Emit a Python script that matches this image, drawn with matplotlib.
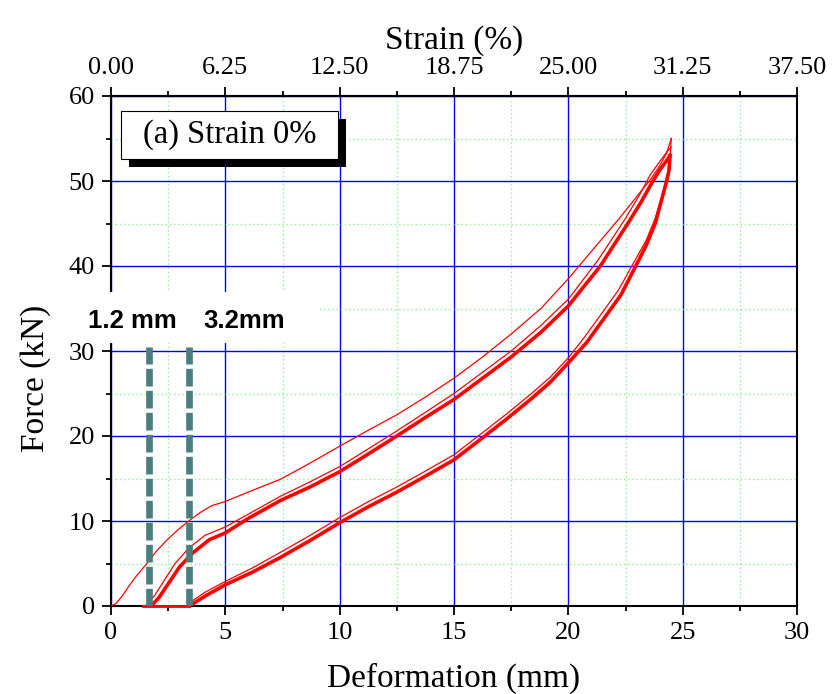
import numpy as np
import matplotlib
matplotlib.use("Agg")
import matplotlib.pyplot as plt
from matplotlib.patches import Rectangle
from matplotlib.ticker import MultipleLocator, FuncFormatter

plt.rcParams['font.family'] = ['Liberation Serif', 'DejaVu Serif']

# ---------------- data ----------------
X_TICKS = [0, 5, 10, 15, 20, 25, 30]
Y_TICKS = [0, 10, 20, 30, 40, 50, 60]
STRAIN_TICKS = [0.00, 6.25, 12.50, 18.75, 25.00, 31.25, 37.50]

# first loading
LOAD1_X = [0, 0.22, 0.5, 0.8, 1.1, 1.54, 2.0, 2.46, 2.9, 3.4, 3.9, 4.4, 5.0, 6.0, 7.4, 8.5,
           10.0, 11.2, 12.5, 13.7, 15.0, 16.2, 17.5, 18.8, 20.0, 21.0, 22.2, 23.0, 23.6, 24.0, 24.3, 24.5]
LOAD1_F = [0, 0.3, 1.2, 2.4, 3.5, 4.9, 6.5, 7.8, 8.9, 10.0, 11.0, 11.8, 12.3, 13.4, 14.9, 16.5,
           18.8, 20.6, 22.5, 24.5, 26.8, 29.2, 32.0, 35.0, 38.5, 41.7, 45.5, 48.2, 50.2, 51.8, 53.3, 55.0]

# reloading: separate upper line and dense cluster
RELOAD_TOP_X = [1.5, 1.9, 2.4, 2.8, 3.4, 4.1, 5.0, 6.0, 7.4, 8.7, 10.0, 11.2, 12.5, 13.7, 15.0,
                16.2, 17.5, 18.8, 20.0, 21.3, 22.5, 23.1, 23.6, 24.0, 24.3, 24.5]
RELOAD_TOP_F = [0, 1.2, 3.3, 5.0, 6.8, 8.3, 9.3, 10.8, 12.9, 14.6, 16.4, 18.4, 20.6, 22.7, 25.0,
                27.4, 30.0, 33.0, 36.1, 40.7, 45.6, 48.3, 50.8, 52.3, 53.4, 54.0]
RELOAD_X = [1.75, 2.1, 2.6, 3.0, 3.6, 4.3, 5.0, 6.0, 7.4, 8.7, 10.0, 11.2, 12.5, 13.7, 15.0,
            16.2, 17.5, 18.8, 20.0, 21.4, 22.6, 23.2, 23.7, 24.0, 24.3, 24.45]
RELOAD_F = [0, 1.0, 3.0, 4.6, 6.3, 7.8, 8.6, 10.3, 12.4, 14.0, 15.8, 17.8, 20.0, 22.1, 24.3,
            26.7, 29.3, 32.2, 35.3, 40.0, 45.0, 47.6, 50.0, 51.3, 52.4, 53.0]

# unloading: separate upper line and dense cluster
UNLOAD_TOP_X = [24.5, 24.45, 24.35, 24.25, 24.05, 23.8, 23.4, 22.9, 22.2, 21.4, 20.7, 20.0, 19.2,
                18.3, 17.3, 16.3, 15.0, 13.7, 12.5, 11.2, 10.0, 8.7, 7.4, 6.2, 5.0, 4.1, 3.5, 3.3]
UNLOAD_TOP_F = [55.0, 52.5, 51.0, 49.8, 47.8, 45.6, 43.0, 40.6, 37.2, 34.2, 31.6, 29.2, 26.9,
                24.8, 22.6, 20.5, 17.8, 15.8, 14.0, 12.2, 10.4, 8.3, 6.3, 4.5, 2.9, 1.6, 0.5, 0]
UNLOAD_X = [24.45, 24.4, 24.3, 24.2, 24.0, 23.8, 23.4, 22.95, 22.3, 21.5, 20.8, 20.0, 19.2, 18.3,
            17.3, 16.3, 15.0, 13.7, 12.5, 11.2, 10.0, 8.7, 7.4, 6.2, 5.0, 4.2, 3.6, 3.4]
UNLOAD_F = [53.0, 51.2, 50.0, 49.0, 47.0, 45.0, 42.4, 40.0, 36.6, 33.6, 31.0, 28.6, 26.3, 24.2,
            22.0, 19.9, 17.2, 15.2, 13.4, 11.6, 9.8, 7.7, 5.7, 4.0, 2.5, 1.3, 0.3, 0]

# zero-force segment between unloading end and reloading start
FLAT_X = [1.4, 3.4]
FLAT_F = [0, 0]

# dashed markers
DASH_X = [1.66, 3.40]
DASH_TOP = 30.5
DASH_LABELS = ["1.2 mm", "3.2mm"]

TITLE_BOX = "(a) Strain 0%"

# ---------------- figure ----------------
W, H = 834, 694
fig = plt.figure(figsize=(W / 100, H / 100), dpi=100)
ax_l, ax_r, ax_t, ax_b = 111, 797, 96, 606
ax = fig.add_axes([ax_l / W, 1 - ax_b / H, (ax_r - ax_l) / W, (ax_b - ax_t) / H])

ax.set_xlim(X_TICKS[0], X_TICKS[-1])
ax.set_ylim(Y_TICKS[0], Y_TICKS[-1])
ax.set_xticks(X_TICKS)
ax.set_yticks(Y_TICKS)
ax.xaxis.set_minor_locator(MultipleLocator(2.5))
ax.yaxis.set_minor_locator(MultipleLocator(5))
ax.set_axisbelow(True)
ax.grid(which='major', color='#0000ff', lw=1.0)
ax.grid(which='minor', color='#90ee90', ls=(0, (1, 2)), lw=1.0)

ax.tick_params(which='major', direction='out', length=6.5, width=1.3, labelsize=19, pad=5,
               top=False, right=False)
ax.tick_params(which='minor', direction='out', length=3.5, width=1.3, top=False, right=False)
for s in ax.spines.values():
    s.set_linewidth(1.5)

# curves
red = '#ff0000'
ax.plot(LOAD1_X, LOAD1_F, color=red, lw=0.9, zorder=3)
ax.plot(UNLOAD_TOP_X, UNLOAD_TOP_F, color=red, lw=0.9, zorder=3)
ax.plot(RELOAD_TOP_X, RELOAD_TOP_F, color=red, lw=0.9, zorder=3)
ax.plot(RELOAD_X, RELOAD_F, color=red, lw=2.6, zorder=3)
ax.plot(UNLOAD_X, UNLOAD_F, color=red, lw=2.6, zorder=3)
ax.plot(FLAT_X, FLAT_F, color=red, lw=2.0, zorder=3, clip_on=False)

# dashed teal lines
for dx in DASH_X:
    ax.plot([dx, dx], [0, DASH_TOP], color='#4a7e80', lw=4.8, dashes=(2.65, 0.65),
            solid_capstyle='butt', dash_capstyle='butt', zorder=4)

# top strain axis
ratio = STRAIN_TICKS[-1] / X_TICKS[-1]
sec = ax.secondary_xaxis('top', functions=(lambda x: x * ratio, lambda s: s / ratio))
sec.set_xticks(STRAIN_TICKS)
sec.xaxis.set_major_formatter(FuncFormatter(lambda v, p: f"{v:.2f}"))
sec.xaxis.set_minor_locator(MultipleLocator(3.125))
sec.tick_params(which='major', direction='out', length=6.5, width=1.3, labelsize=19, pad=6)
sec.tick_params(which='minor', direction='out', length=3.5, width=1.3)
sec.spines['top'].set_linewidth(1.5)
sec.set_xlabel("Strain (%)", fontsize=24, labelpad=6)

ax.set_xlabel("Deformation (mm)", fontsize=24)
ax.set_ylabel("Force (kN)", fontsize=24)
ax.xaxis.set_label_coords(0.5, -0.112)
ax.yaxis.set_label_coords(-0.088, 0.447)

# title box with shadow
bx0, bx1 = (121 - ax_l) / (ax_r - ax_l), (338 - ax_l) / (ax_r - ax_l)
by0, by1 = (ax_b - 159.3) / (ax_b - ax_t), (ax_b - 110.7) / (ax_b - ax_t)
dx_s, dy_s = 8 / (ax_r - ax_l), 8 / (ax_b - ax_t)
ax.add_patch(Rectangle((bx0 + dx_s, by0 - dy_s), bx1 - bx0, by1 - by0, transform=ax.transAxes,
                       fc='black', ec='none', zorder=6))
ax.add_patch(Rectangle((bx0, by0), bx1 - bx0, by1 - by0, transform=ax.transAxes,
                       fc='white', ec='black', lw=0.8, zorder=7))
ax.text((bx0 + bx1) / 2, (by0 + by1) / 2, TITLE_BOX, transform=ax.transAxes,
        ha='center', va='center', fontsize=23.5, zorder=8)

# white patch with dash labels (covers axis)
fig.add_artist(Rectangle((75 / W, 1 - 343 / H), (318 - 75) / W, (343 - 292) / H,
                         transform=fig.transFigure, fc='white', ec='none', zorder=5))
for xpix, lab in zip([88, 203], DASH_LABELS):
    t = fig.text(xpix / W, 1 - 328 / H, lab, ha='left', va='baseline', fontsize=18.5,
                 fontweight='bold', family=['Liberation Sans', 'DejaVu Sans'])
    t.set_zorder(6)

fig.savefig("out.png", dpi=100)
